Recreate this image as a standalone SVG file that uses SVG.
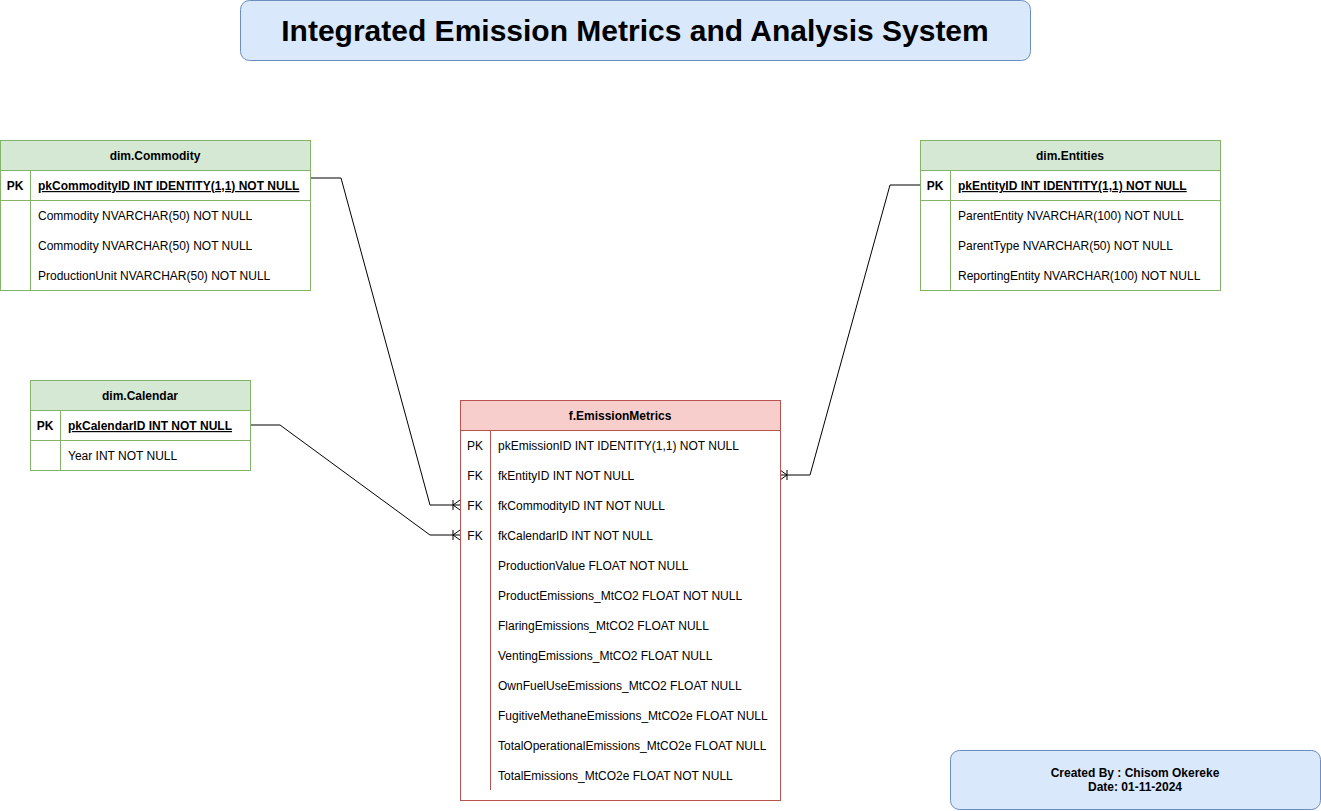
<svg xmlns="http://www.w3.org/2000/svg" width="1321" height="811" viewBox="0 0 1321 811">
<style>
text{font-family:"Liberation Sans",Arial,sans-serif;font-size:12px;fill:#000}
.hdr{font-weight:bold;text-anchor:middle}
.key{text-anchor:middle}
.bk{font-weight:bold}
.pk{font-weight:bold;text-decoration:underline}
.dim{fill:#fff;stroke:#82b366;stroke-width:1}
.dimh{fill:#d5e8d4;stroke:#82b366;stroke-width:1}
.dl{stroke:#82b366;stroke-width:1;fill:none}
.fact{fill:#fff;stroke:#b85450;stroke-width:1}
.facth{fill:#f8cecc;stroke:#b85450;stroke-width:1}
.fl{stroke:#b85450;stroke-width:1;fill:none}
.conn{fill:none;stroke:#000;stroke-width:1}
.box{fill:#dae8fc;stroke:#6c8ebf;stroke-width:1}
</style>
<defs>
<marker id="many" markerUnits="userSpaceOnUse" markerWidth="14" markerHeight="14" refX="12" refY="7" orient="auto" overflow="visible">
<path d="M12,2 L5,7 L12,12 M5,2 L5,12" fill="none" stroke="#000" stroke-width="1"/>
</marker>
</defs>
<rect width="1321" height="811" fill="#fff"/>

<g id="title">
<rect class="box" x="240.5" y="0.5" width="790" height="60" rx="9"/>
<text x="635" y="41" text-anchor="middle" style="font-size:30px;font-weight:bold">Integrated Emission Metrics and Analysis System</text>
</g>

<g id="connectors">
<path class="conn" d="M310,178 H341 L430,505 H460" marker-end="url(#many)"/>
<path class="conn" d="M250,425 H280 L430,535 H460" marker-end="url(#many)"/>
<path class="conn" d="M920,185 H890 L810,475 H780" marker-end="url(#many)"/>
</g>

<g id="dim-commodity">
<rect class="dim" x="0.5" y="140.5" width="310" height="150"/>
<rect class="dimh" x="0.5" y="140.5" width="310" height="30"/>
<line class="dl" x1="30.5" y1="170.5" x2="30.5" y2="290.5"/>
<line class="dl" x1="0.5" y1="200.5" x2="310.5" y2="200.5"/>
<text class="hdr" x="155" y="160">dim.Commodity</text>
<text class="key bk" x="15" y="190">PK</text>
<text class="pk" x="38" y="190">pkCommodityID INT IDENTITY(1,1) NOT NULL</text>
<text x="38" y="220">Commodity NVARCHAR(50) NOT NULL</text>
<text x="38" y="250">Commodity NVARCHAR(50) NOT NULL</text>
<text x="38" y="280">ProductionUnit NVARCHAR(50) NOT NULL</text>
</g>

<g id="dim-entities">
<rect class="dim" x="920.5" y="140.5" width="300" height="150"/>
<rect class="dimh" x="920.5" y="140.5" width="300" height="30"/>
<line class="dl" x1="950.5" y1="170.5" x2="950.5" y2="290.5"/>
<line class="dl" x1="920.5" y1="200.5" x2="1220.5" y2="200.5"/>
<text class="hdr" x="1070" y="160">dim.Entities</text>
<text class="key bk" x="935" y="190">PK</text>
<text class="pk" x="958" y="190">pkEntityID INT IDENTITY(1,1) NOT NULL</text>
<text x="958" y="220">ParentEntity NVARCHAR(100) NOT NULL</text>
<text x="958" y="250">ParentType NVARCHAR(50) NOT NULL</text>
<text x="958" y="280">ReportingEntity NVARCHAR(100) NOT NULL</text>
</g>

<g id="dim-calendar">
<rect class="dim" x="30.5" y="380.5" width="220" height="90"/>
<rect class="dimh" x="30.5" y="380.5" width="220" height="30"/>
<line class="dl" x1="60.5" y1="410.5" x2="60.5" y2="470.5"/>
<line class="dl" x1="30.5" y1="440.5" x2="250.5" y2="440.5"/>
<text class="hdr" x="140" y="400">dim.Calendar</text>
<text class="key bk" x="45" y="430">PK</text>
<text class="pk" x="68" y="430">pkCalendarID INT NOT NULL</text>
<text x="68" y="460">Year INT NOT NULL</text>
</g>

<g id="f-emissionmetrics">
<rect class="fact" x="460.5" y="400.5" width="320" height="400"/>
<rect class="facth" x="460.5" y="400.5" width="320" height="30"/>
<line class="fl" x1="490.5" y1="430.5" x2="490.5" y2="790"/>
<text class="hdr" x="620" y="420">f.EmissionMetrics</text>
<text class="key" x="475" y="450">PK</text>
<text x="498" y="450">pkEmissionID INT IDENTITY(1,1) NOT NULL</text>
<text class="key" x="475" y="480">FK</text>
<text x="498" y="480">fkEntityID INT NOT NULL</text>
<text class="key" x="475" y="510">FK</text>
<text x="498" y="510">fkCommodityID INT NOT NULL</text>
<text class="key" x="475" y="540">FK</text>
<text x="498" y="540">fkCalendarID INT NOT NULL</text>
<text x="498" y="570">ProductionValue FLOAT NOT NULL</text>
<text x="498" y="600">ProductEmissions_MtCO2 FLOAT NOT NULL</text>
<text x="498" y="630">FlaringEmissions_MtCO2 FLOAT NULL</text>
<text x="498" y="660">VentingEmissions_MtCO2 FLOAT NULL</text>
<text x="498" y="690">OwnFuelUseEmissions_MtCO2 FLOAT NULL</text>
<text x="498" y="720">FugitiveMethaneEmissions_MtCO2e FLOAT NULL</text>
<text x="498" y="750">TotalOperationalEmissions_MtCO2e FLOAT NULL</text>
<text x="498" y="780">TotalEmissions_MtCO2e FLOAT NOT NULL</text>
</g>

<g id="footer">
<rect class="box" x="950.5" y="750.5" width="370" height="59" rx="9"/>
<text class="hdr" x="1135" y="777">Created By : Chisom Okereke</text>
<text class="hdr" x="1135" y="791">Date: 01-11-2024</text>
</g>
</svg>
